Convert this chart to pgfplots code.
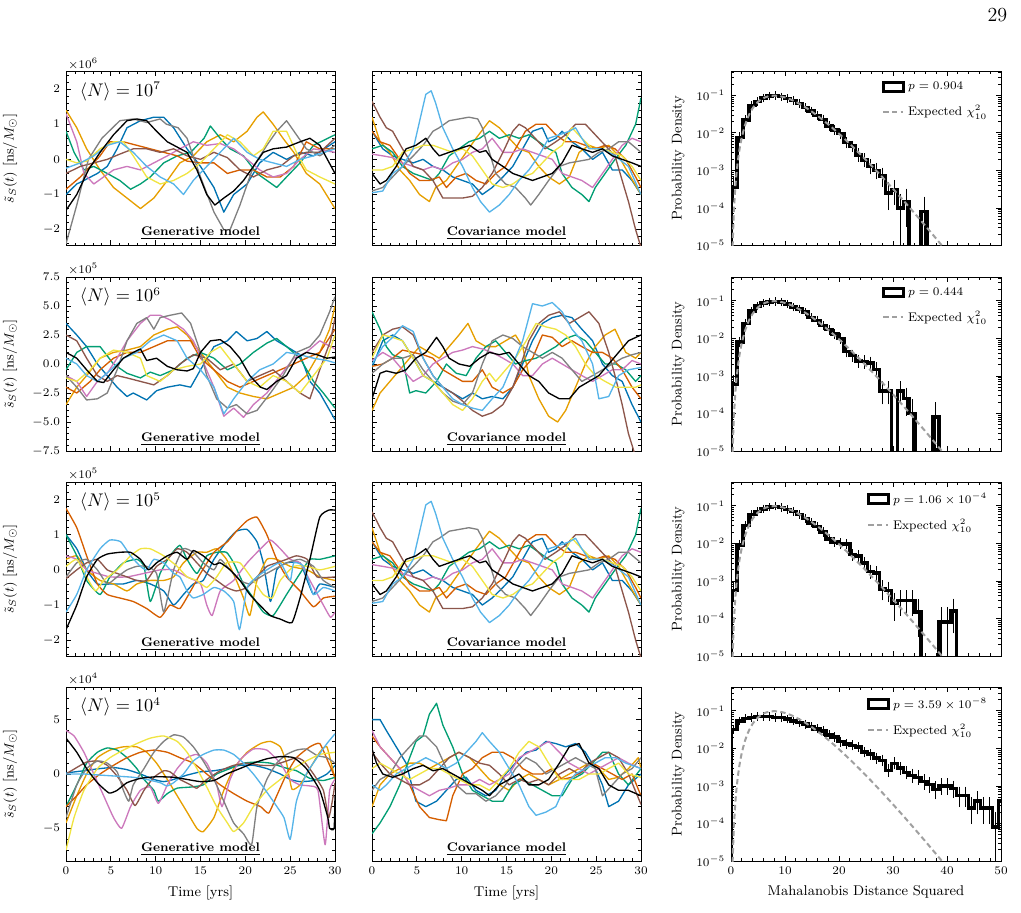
\documentclass[border=0pt]{standalone}
\usepackage{pgfplots}
\pgfplotsset{compat=1.18}
\usepackage{pgfplotstable}

\definecolor{cblue}{HTML}{0173B2}
\definecolor{corange}{HTML}{E69F00}
\definecolor{cgreen}{HTML}{029E73}
\definecolor{cverm}{HTML}{D55E00}
\definecolor{cpink}{HTML}{CC78BC}
\definecolor{cbrown}{HTML}{8C564B}
\definecolor{cgray}{HTML}{808080}
\definecolor{cyellow}{HTML}{F0E442}
\definecolor{clblue}{HTML}{56B4E9}
\definecolor{cchi}{HTML}{A0A0A0}

\newcommand\tickfont{\fontsize{7.5}{8}\selectfont}
\newcommand\labfont{\fontsize{8.5}{10}\selectfont}
\newcommand\legfont{\fontsize{7.5}{9}\selectfont}

% expected chi^2 density, 10 degrees of freedom
\pgfplotstableread{
x y
0.2 1.89e-6
0.3 9.08e-6
0.4 2.73e-5
0.6 1.25e-4
0.8 3.575e-4
1.0 7.90e-4
1.25 1.70e-3
1.5 3.11e-3
1.75 5.09e-3
2.0 7.66e-3
2.5 1.457e-2
3.0 2.353e-2
3.5 3.396e-2
4.0 4.511e-2
4.5 5.628e-2
5.0 6.680e-2
5.5 7.617e-2
6.0 8.402e-2
6.5 9.012e-2
7.0 9.440e-2
7.5 9.690e-2
8.0 9.768e-2
8.5 9.690e-2
9.0 9.490e-2
10 8.773e-2
11 7.790e-2
12 6.693e-2
13 5.590e-2
14 4.561e-2
15 3.645e-2
16 2.862e-2
17 2.213e-2
18 1.687e-2
19 1.270e-2
20 9.458e-3
22 5.094e-3
24 2.654e-3
26 1.345e-3
28 6.655e-4
30 3.226e-4
32 1.5365e-4
34 7.204e-5
36 3.331e-5
38 1.521e-5
40 6.87e-6
42 3.07e-6
}\chisq

% histograms: left bin edge, density, error up, error down
\pgfplotstableread{
x y ep em
0 1e-7 0 0
0 3.5e-4 1.7e-4 1.7e-4
1.1 7.5e-3 7.7e-4 7.7e-4
2.2 2.2e-2 1.3e-3 1.3e-3
3.3 5.4e-2 2.1e-3 2.1e-3
4.4 6.9e-2 2.3e-3 2.3e-3
5.5 8.4e-2 2.6e-3 2.6e-3
6.6 9.5e-2 2.8e-3 2.8e-3
7.7 9.8e-2 2.8e-3 2.8e-3
8.8 9.2e-2 2.7e-3 2.7e-3
9.9 8.3e-2 2.6e-3 2.6e-3
11.0 7.3e-2 2.4e-3 2.4e-3
12.1 6.0e-2 2.2e-3 2.2e-3
13.2 4.7e-2 1.9e-3 1.9e-3
14.3 3.8e-2 1.7e-3 1.7e-3
15.4 2.9e-2 1.5e-3 1.5e-3
16.5 2.3e-2 1.4e-3 1.4e-3
17.6 1.5e-2 1.1e-3 1.1e-3
18.7 1.2e-2 9.8e-4 9.8e-4
19.8 9.5e-3 8.7e-4 8.7e-4
20.9 5.5e-3 6.6e-4 6.6e-4
22.0 4.4e-3 5.9e-4 5.9e-4
23.1 2.6e-3 4.6e-4 4.6e-4
24.2 1.9e-3 3.9e-4 3.9e-4
25.3 1.3e-3 3.2e-4 3.2e-4
26.4 1.0e-3 2.8e-4 2.8e-4
27.5 7.0e-4 2.4e-4 2.4e-4
28.6 2.5e-4 1.4e-4 1.4e-4
29.7 3.0e-4 1.5e-4 1.5e-4
30.8 1.0e-4 9e-5 9e-5
31.9 1.5e-4 1.1e-4 1.1e-4
33.0 1e-7 0 0
34.1 1e-7 0 0
35.2 8e-5 8e-5 7.99e-5
36.3 1e-7 0 0
}\histA

\pgfplotstableread{
x y ep em
0 1e-7 0 0
0 6e-4 2.2e-4 2.2e-4
1.1 8e-3 8e-4 8e-4
2.2 2.5e-2 1.4e-3 1.4e-3
3.3 5.3e-2 2.1e-3 2.1e-3
4.4 7.2e-2 2.4e-3 2.4e-3
5.5 8.6e-2 2.6e-3 2.6e-3
6.6 9.4e-2 2.7e-3 2.7e-3
7.7 9.6e-2 2.8e-3 2.8e-3
8.8 9.3e-2 2.7e-3 2.7e-3
9.9 8.2e-2 2.6e-3 2.6e-3
11.0 6.8e-2 2.3e-3 2.3e-3
12.1 6.1e-2 2.2e-3 2.2e-3
13.2 5.0e-2 2.0e-3 2.0e-3
14.3 3.6e-2 1.7e-3 1.7e-3
15.4 3.0e-2 1.5e-3 1.5e-3
16.5 2.2e-2 1.3e-3 1.3e-3
17.6 1.7e-2 1.2e-3 1.2e-3
18.7 1.3e-2 1.0e-3 1.0e-3
19.8 1.0e-2 8.9e-4 8.9e-4
20.9 4.5e-3 6.0e-4 6.0e-4
22.0 3.5e-3 5.3e-4 5.3e-4
23.1 2.5e-3 4.5e-4 4.5e-4
24.2 2.4e-3 4.4e-4 4.4e-4
25.3 2.2e-3 4.2e-4 4.2e-4
26.4 1.5e-3 3.5e-4 3.5e-4
27.5 4e-4 1.8e-4 1.8e-4
28.6 4e-4 1.8e-4 1.8e-4
29.7 1e-7 0 0
30.8 4e-4 1.8e-4 1.8e-4
31.9 2.5e-4 1.4e-4 1.4e-4
33.0 1e-4 9e-5 9e-5
34.1 1e-7 0 0
35.2 1e-7 0 0
36.3 1e-7 0 0
37.4 8e-5 8e-5 7.99e-5
38.5 1e-7 0 0
}\histB

\pgfplotstableread{
x y ep em
0 1e-7 0 0
0 5.5e-4 2.1e-4 2.1e-4
1.1 9e-3 8.5e-4 8.5e-4
2.2 3.0e-2 1.5e-3 1.5e-3
3.3 5.9e-2 2.2e-3 2.2e-3
4.4 7.0e-2 2.4e-3 2.4e-3
5.5 8.3e-2 2.6e-3 2.6e-3
6.6 9.2e-2 2.7e-3 2.7e-3
7.7 9.7e-2 2.8e-3 2.8e-3
8.8 9.0e-2 2.7e-3 2.7e-3
9.9 8.0e-2 2.5e-3 2.5e-3
11.0 7.1e-2 2.4e-3 2.4e-3
12.1 5.8e-2 2.2e-3 2.2e-3
13.2 4.6e-2 1.9e-3 1.9e-3
14.3 3.5e-2 1.7e-3 1.7e-3
15.4 2.8e-2 1.5e-3 1.5e-3
16.5 2.0e-2 1.3e-3 1.3e-3
17.6 1.3e-2 1.0e-3 1.0e-3
18.7 1.1e-2 9.4e-4 9.4e-4
19.8 1.0e-2 8.9e-4 8.9e-4
20.9 9.5e-3 8.7e-4 8.7e-4
22.0 5.0e-3 6.3e-4 6.3e-4
23.1 4.6e-3 6.1e-4 6.1e-4
24.2 3.0e-3 4.9e-4 4.9e-4
25.3 1.8e-3 3.8e-4 3.8e-4
26.4 1.6e-3 3.6e-4 3.6e-4
27.5 6.0e-4 2.2e-4 2.2e-4
28.6 5.5e-4 2.1e-4 2.1e-4
29.7 2.5e-4 1.4e-4 1.4e-4
30.8 3.0e-4 1.5e-4 1.5e-4
31.9 3.0e-4 1.5e-4 1.5e-4
33.0 3.0e-4 1.5e-4 1.5e-4
34.1 1.5e-4 1.1e-4 1.1e-4
35.2 1e-7 0 0
36.3 1e-7 0 0
37.4 1e-7 0 0
38.5 8e-5 8e-5 7.99e-5
39.6 8e-5 8e-5 7.99e-5
40.7 1.6e-4 1.1e-4 1.1e-4
41.8 1e-7 0 0
}\histC

\pgfplotstableread{
x y ep em
0 1e-7 0 0
0 3.2e-2 1.6e-3 1.6e-3
1.1 5.4e-2 2.1e-3 2.1e-3
2.2 6.2e-2 2.2e-3 2.2e-3
3.3 6.6e-2 2.3e-3 2.3e-3
4.4 7.0e-2 2.4e-3 2.4e-3
5.5 7.1e-2 2.4e-3 2.4e-3
6.6 7.0e-2 2.4e-3 2.4e-3
7.7 6.7e-2 2.3e-3 2.3e-3
8.8 6.6e-2 2.3e-3 2.3e-3
9.9 6.0e-2 2.2e-3 2.2e-3
11.0 5.4e-2 2.1e-3 2.1e-3
12.1 4.9e-2 2.0e-3 2.0e-3
13.2 4.4e-2 1.9e-3 1.9e-3
14.3 3.8e-2 1.7e-3 1.7e-3
15.4 3.3e-2 1.6e-3 1.6e-3
16.5 2.9e-2 1.5e-3 1.5e-3
17.6 2.3e-2 1.4e-3 1.4e-3
18.7 2.0e-2 1.3e-3 1.3e-3
19.8 1.5e-2 1.1e-3 1.1e-3
20.9 1.3e-2 1.0e-3 1.0e-3
22.0 1.2e-2 9.8e-4 9.8e-4
23.1 1.1e-2 9.4e-4 9.4e-4
24.2 8.0e-3 8.0e-4 8.0e-4
25.3 7.0e-3 7.5e-4 7.5e-4
26.4 5.5e-3 6.6e-4 6.6e-4
27.5 4.8e-3 6.2e-4 6.2e-4
28.6 2.6e-3 4.6e-4 4.6e-4
29.7 4.0e-3 5.7e-4 5.7e-4
30.8 3.0e-3 4.9e-4 4.9e-4
31.9 2.3e-3 4.3e-4 4.3e-4
33.0 1.9e-3 3.9e-4 3.9e-4
34.1 1.7e-3 3.7e-4 3.7e-4
35.2 1.3e-3 3.2e-4 3.2e-4
36.3 1.1e-3 3.0e-4 3.0e-4
37.4 8.0e-4 2.5e-4 2.5e-4
38.5 1.0e-3 2.8e-4 2.8e-4
39.6 1.0e-3 2.8e-4 2.8e-4
40.7 8.5e-4 2.6e-4 2.6e-4
41.8 5.5e-4 2.1e-4 2.1e-4
42.9 5.5e-4 2.1e-4 2.1e-4
44.0 2.6e-4 1.4e-4 1.4e-4
45.1 4.0e-4 1.8e-4 1.8e-4
46.2 2.6e-4 1.4e-4 1.4e-4
47.3 2.6e-4 1.4e-4 1.4e-4
48.4 8e-5 8e-5 7.99e-5
49.5 4.0e-4 1.8e-4 1.8e-4
50.6 1e-7 0 0
}\histD

\pgfplotsset{
  panelbase/.style={
    scale only axis, height=104.4pt, clip mode=individual,
    axis line style={line width=0.6pt},
    tick align=inside,
    major tick length=3pt, minor tick length=1.6pt,
    every tick/.append style={line width=0.45pt, black},
    tick label style={font=\tickfont},
    label style={font=\labfont},
  },
  tsax/.style={panelbase, width=161.4pt, xmin=0, xmax=30,
    xtick={0,5,...,30}, minor xtick={0,1,...,30},
    every axis plot/.append style={line width=0.8pt, line join=round}},
  tsleft/.style={tsax, ylabel={$\tilde{s}_S(t)$ [ns/$M_\odot$]},
    every axis y label/.append style={at={(axis description cs:-0.16,0.5)}, anchor=south}},
  tsmid/.style={tsax, yticklabels={}},
  smoothrow/.style={every axis plot/.append style={smooth, tension=0.3}},
  rowA/.style={ymin=-2.45, ymax=2.5, ytick={-2,-1,0,1,2}, minor ytick={-2.4,-2.2,...,2.41}},
  rowB/.style={ymin=-7.5, ymax=7.5, ytick={-7.5,-5,...,7.5}, minor ytick={-7,-6.5,...,7.1},
    yticklabel style={/pgf/number format/fixed, /pgf/number format/fixed zerofill, /pgf/number format/precision=1}},
  rowD/.style={ymin=-8, ymax=8, ytick={-5,0,5}, minor ytick={-8,-7,...,8}},
  mdax/.style={panelbase, width=162pt, xmin=0, xmax=50, ymin=1e-5, ymax=0.43,
    xtick={0,10,...,50}, minor xtick={0,2,...,50},
    ytick={1e-5,1e-4,1e-3,1e-2,1e-1},
    minor ytick={2e-5,3e-5,4e-5,5e-5,6e-5,7e-5,8e-5,9e-5,2e-4,3e-4,4e-4,5e-4,6e-4,7e-4,8e-4,9e-4,2e-3,3e-3,4e-3,5e-3,6e-3,7e-3,8e-3,9e-3,2e-2,3e-2,4e-2,5e-2,6e-2,7e-2,8e-2,9e-2,2e-1,3e-1,4e-1},
    ylabel={Probability Density},
    every axis y label/.append style={at={(axis description cs:-0.15,0.5)}, anchor=south},
    legend style={draw=none, fill=none, at={(0.965,0.965)}, anchor=north east,
      font=\legfont, row sep=4pt, inner sep=0.5pt},
    legend cell align=left},
}

\newcommand\steplineopts{const plot, black, line width=2.1pt, line join=miter,
    legend image code/.code={\draw[black, line width=1.7pt] (0pt,-2.5pt) rectangle (12pt,2.7pt);}}
\newcommand\chilineopts{cchi, line width=1.2pt, dash pattern=on 3.2pt off 2pt,
    legend image code/.code={\draw[cchi, line width=1.2pt, dash pattern=on 3.2pt off 2pt] (0pt,0pt) -- (12pt,0pt);}}

% one histogram panel: table, p-value text
\newcommand\histpanel[2]{%
\expandafter\addplot\expandafter[\steplineopts] table[x=x, y=y] {#1};
\addlegendentry{#2}
\addplot[only marks, mark size=0pt, forget plot,
  error bars/y dir=both, error bars/y explicit,
  error bars/error bar style={black, line width=0.6pt},
  error bars/error mark options={black, mark size=2.2pt, line width=0.6pt}]
  table[x expr=\thisrow{x}+0.55, y=y, y error plus=ep, y error minus=em] {#1};
\expandafter\addplot\expandafter[\chilineopts] table[x=x, y=y] {\chisq};
\addlegendentry{Expected $\chi^2_{10}$}
}

\newcommand\scalenote[1]{\node[anchor=south west, font=\tickfont, inner sep=1pt] at (rel axis cs:0,1) {$\times10^{#1}$};}
\newcommand\Nlabel[1]{\node[anchor=west, font=\fontsize{10.5}{12}\selectfont] at (rel axis cs:0.03,0.885) {$\langle N\rangle = 10^{#1}$};}
\newcommand\genlabel{\node[font=\fontsize{7.5}{9}\selectfont\bfseries] at (rel axis cs:0.5,0.07) {\underline{Generative model}};}
\newcommand\covlabel{\node[font=\fontsize{7.5}{9}\selectfont\bfseries] at (rel axis cs:0.5,0.07) {\underline{Covariance model}};}

% covariance-model draws shared by the 10^7 and 10^5 rows
\newcommand\covA{%
\addplot[cblue] coordinates {(0,0.8) (1.2,0.3) (2.3,0.1) (3.4,0.0) (4.6,-0.1) (5.7,0.0) (6.8,-0.2) (7.9,-0.3) (9,-0.5) (10.1,-0.6) (11.2,-0.7) (12.3,-1.0) (13.4,-0.8) (14.6,-0.5) (15.7,-0.2) (16.8,0.3) (17.9,0.8) (19,0.9) (19.7,0.5) (20.5,0.6) (21.2,0.8) (22.3,0.5) (23.4,0.3) (24.6,0.0) (25.7,0.2) (26.8,-0.3) (27.9,-0.3) (29,-0.6) (30,-1.0)};
\addplot[corange] coordinates {(0,1.2) (0.9,0.5) (2,0.2) (3.1,-0.3) (4.2,-0.6) (5.3,-1.0) (6.4,-1.2) (7.1,-0.8) (8.3,-0.6) (9.4,-0.2) (10.5,0.2) (11.6,0.6) (13.1,1.1) (14.2,0.9) (15.3,0.6) (16.4,0.3) (17.5,0.2) (18.6,-0.2) (19.7,-0.5) (20.9,-0.7) (22,-0.5) (23.1,0.2) (24.2,0.4) (25.3,0.3) (26.4,0.4) (27.5,0.1) (28.6,-0.4) (30,-1.0)};
\addplot[cgreen] coordinates {(0,0.3) (1.2,0.4) (2.3,0.2) (3.4,-0.2) (4.6,-0.4) (5.7,-0.5) (6.8,-0.6) (7.5,-0.4) (8.6,0.1) (9.7,0.3) (10.8,0.5) (12,0.6) (13.1,0.8) (14.2,0.6) (15.3,0.7) (16.4,0.6) (17.5,0.7) (18.6,0.5) (19.7,0.3) (20.5,0.2) (21.2,-0.4) (22.3,-0.8) (23.4,-1.0) (24.2,-1.2) (24.9,-0.8) (26,-0.4) (27.1,0.0) (28.3,0.4) (29.4,1.0) (30,1.75)};
\addplot[cverm] coordinates {(0,0.8) (0.9,0.5) (2,0.4) (3.1,0.0) (4.2,-0.4) (5.3,-0.6) (6.4,-0.6) (7.5,-0.5) (8.3,-0.8) (9.4,-0.5) (10.5,-0.4) (11.6,-0.6) (12.7,-0.7) (13.8,-0.4) (14.9,-0.2) (16,0.3) (17.1,0.8) (18.3,1.0) (19.4,1.0) (20.5,0.7) (21.6,0.5) (22.7,0.5) (23.8,0.4) (24.9,0.3) (26,0.4) (27.1,0.3) (28.3,0.0) (29.4,-0.5) (30,-0.8)};
\addplot[cpink] coordinates {(0,0.15) (1.2,0.1) (2.3,0.05) (3.4,-0.1) (4.6,-0.2) (5.7,-0.3) (6.8,-0.2) (7.9,-0.3) (9,-0.1) (10.1,0.0) (11.2,0.2) (12.3,0.3) (13.4,0.6) (14.6,0.2) (15.7,0.2) (16.8,0.3) (17.9,0.2) (19,0.1) (20.1,0.0) (21.2,-0.4) (22.3,-0.5) (23.4,-0.6) (24.6,-0.8) (25.7,-0.4) (26.8,0.0) (27.9,0.4) (29,0.6) (30,0.5)};
\addplot[cbrown] coordinates {(0,1.65) (0.9,1.2) (1.6,0.9) (2.3,0.8) (3.4,0.3) (4.6,-0.2) (5.7,-0.3) (6.8,-0.6) (7.9,-1.1) (9,-1.1) (10.1,-1.1) (11.2,-1.05) (12.3,-0.8) (13.4,-0.4) (14.6,0.2) (15.7,0.8) (16.4,1.0) (17.1,0.9) (18.2,0.6) (19.3,0.3) (20.5,0.5) (21.6,0.7) (22.7,1.0) (23.8,1.0) (24.9,0.7) (26,0.4) (27.1,0.1) (27.9,-0.6) (28.6,-1.2) (29.4,-2.0) (30,-2.5)};
\addplot[cgray] coordinates {(0,-0.9) (1.2,-0.8) (2.3,-0.5) (3.4,-0.2) (4.6,0.1) (5.7,0.4) (6.8,0.8) (7.5,0.9) (8.6,1.1) (9.7,1.15) (10.8,1.2) (11.8,1.15) (12.3,0.9) (13.1,0.2) (13.8,-0.4) (14.9,-0.7) (16,-0.8) (17.1,-1.1) (17.7,-1.3) (18.6,-1.0) (19.7,-0.6) (20.9,-0.2) (22,-0.1) (23.1,-0.05) (24.2,0.0) (25.3,0.2) (26.4,0.3) (27.5,0.5) (28.6,0.5) (30,0.2)};
\addplot[cyellow] coordinates {(0,-0.3) (1.2,-0.3) (2.3,-0.2) (3.4,0.2) (4.6,0.3) (5.7,0.4) (6.8,0.4) (7.9,0.3) (9,0.2) (10.1,0.3) (11.2,0.1) (12.3,-0.3) (13.4,-0.7) (14.6,-0.8) (15.7,-0.7) (16.8,-0.5) (17.9,-0.4) (19,-0.1) (20.1,0.2) (21.2,0.4) (22.3,0.9) (23.4,0.6) (24.6,0.3) (25.7,0.3) (26.8,0.2) (27.9,0.1) (29,-0.2) (30,-0.6)};
\addplot[clblue] coordinates {(0,-0.95) (1.2,-0.9) (2.3,-0.4) (3.4,-0.2) (4.6,0.3) (5.5,1.3) (6,1.85) (6.6,1.95) (7.1,1.6) (7.9,0.9) (9,0.3) (10.1,-0.2) (11.2,-0.8) (12.1,-1.2) (13.1,-1.5) (14.2,-1.3) (15.3,-1.0) (16.4,-0.6) (17.5,-0.3) (18.6,0.1) (19.7,0.6) (20.9,0.7) (22,0.8) (22.7,0.9) (23.4,0.6) (24.2,0.3) (25.7,0.3) (27.1,0.1) (28.6,-0.2) (30,-1.0)};
\addplot[black] coordinates {(0,-0.4) (0.9,-0.7) (1.6,-0.6) (2.7,-0.2) (3.8,0.3) (4.9,0.4) (6,0.6) (6.8,0.3) (7.5,0.1) (8.6,0.2) (9.7,0.3) (10.9,0.4) (12,0.2) (12.7,0.25) (13.4,0.0) (14.6,-0.2) (15.7,-0.4) (16.8,-0.5) (17.9,-0.6) (19,-0.5) (20.1,-0.4) (21.2,-0.1) (22.3,0.4) (23.4,0.3) (24.6,0.2) (25.7,0.3) (26.8,0.1) (27.9,0.0) (29,-0.1) (30,-0.2)};
}

\begin{document}
\begin{tikzpicture}
\useasboundingbox (0,0) rectangle (612.6pt,547.2pt);
\node[anchor=east, font=\fontsize{12}{14}\selectfont] at (607.8pt,538.2pt) {29};

%% ---------------- row 1: <N> = 10^7 ----------------
\begin{axis}[tsleft, rowA, xticklabels={}, at={(39.6pt,399.9pt)}, anchor=south west]
\addplot[cblue] coordinates {(0,-1.0) (1.2,-0.7) (2,-0.6) (3.5,-0.4) (4.6,-0.2) (5.7,0.3) (6.8,0.9) (8.3,1.1) (9.8,1.2) (10.9,1.2) (12,0.9) (13.5,0.3) (15,-0.2) (16.5,-0.8) (17.6,-1.5) (18.7,-1.0) (20.2,-0.7) (21.6,-0.1) (23.1,0.2) (24.6,0) (26.1,0.2) (27.6,0.1) (30,0.5)};
\addplot[corange] coordinates {(0,1.4) (1.2,0.9) (2.3,0.3) (3.8,-0.3) (5.3,-0.8) (6.8,-1.1) (8.3,-1.4) (9.8,-1.1) (11.3,-0.6) (12.7,-0.1) (14.2,0.1) (15.7,0.5) (17.2,0.7) (18.7,0.5) (20.2,0.8) (21.3,1.2) (22,1.35) (23.1,1.0) (24.2,0.6) (25.4,0.2) (26.8,-0.4) (28.3,-0.7) (30,-1.4)};
\addplot[cgreen] coordinates {(0,0.8) (0.9,0.2) (2,-0.3) (3.1,-0.2) (4.6,-0.4) (6,-0.6) (7.2,-0.85) (8.3,-0.7) (9.4,-0.5) (10.9,-0.1) (12.4,0.1) (13.9,0.2) (15.4,0.6) (16.1,0.95) (17.2,0.6) (18.3,0.3) (19.8,0.1) (21.3,-0.4) (22.4,-0.6) (23.5,-0.8) (24.6,-0.5) (26.1,-0.1) (27.6,0.4) (30,0.7)};
\addplot[cverm] coordinates {(0,-0.85) (1.6,-0.5) (2.7,-0.2) (3.8,0.1) (4.9,0.5) (6.4,0.5) (7.9,0.4) (9.4,0.3) (10.9,0.2) (12.4,0.1) (13.5,-0.05) (15,-0.1) (16.5,-0.1) (18,-0.4) (19.4,-0.3) (20.9,-0.3) (22.4,-0.5) (23.9,-0.5) (25.4,-0.2) (26.8,0.5) (28.3,0.3) (30,0.3)};
\addplot[cpink] coordinates {(0,1.3) (1.2,0.5) (2,-0.4) (3.1,-0.7) (4.2,-0.5) (5.3,-0.3) (6.8,-0.2) (8.3,-0.3) (9.8,-0.1) (11.3,0.1) (12.7,0.3) (14.2,0.5) (15.7,0.4) (17.2,0.45) (18.7,0.3) (20.2,0) (21.6,-0.3) (23.1,-0.5) (24.6,-0.4) (26.1,0) (27.6,0.3) (30,0.2)};
\addplot[cbrown] coordinates {(0,-0.4) (1.6,-0.2) (3.1,-0.1) (4.6,0) (6,0.15) (7.5,0.3) (9,0.3) (10.5,0.2) (12,0.3) (13.5,0.1) (15,0) (16.5,0.2) (18,0.05) (19.4,-0.3) (20.9,-0.5) (22.4,-0.3) (23.9,-0.2) (25.4,0.1) (26.8,0.2) (28.3,0.2) (30,0.6)};
\addplot[cgray] coordinates {(0,-2.4) (1.2,-1.3) (2.5,0) (4,0.6) (6,1.1) (7.5,1.15) (9,1.05) (10.5,1.15) (11.2,1.0) (12.5,0.9) (13.5,0.6) (15,-0.5) (16.5,-1.5) (17.6,-2.0) (18.3,-2.0) (19.4,-1.3) (20.9,-0.2) (22.4,0.4) (23.5,0.8) (24.6,1.1) (25.7,0.7) (26.8,0.3) (28.3,0.1) (30,0.4)};
\addplot[cyellow] coordinates {(0,0) (1.2,-0.1) (2.3,-0.05) (3.8,0.3) (5.3,0.5) (6.4,0.5) (7.5,0.1) (9,-0.5) (10.5,-0.7) (12,-0.6) (13.5,-0.4) (15,-0.1) (16.5,0.3) (18,0.7) (19.4,0.5) (20.9,0.1) (22,0.3) (23.1,0.8) (24.6,0.8) (25.7,0.2) (26.8,-0.3) (28.3,-0.5) (30,-0.7)};
\addplot[clblue] coordinates {(0,-0.25) (1.6,-0.1) (3.1,0.1) (4.6,0.4) (6,0.5) (7.5,0.2) (9,-0.2) (10.5,-0.5) (12,-0.7) (13.1,-1.0) (14.2,-0.6) (15.7,-0.2) (17.2,0.2) (18.7,0.6) (20.2,0.2) (21.6,0) (23.1,-0.1) (24.6,-0.2) (26.1,0) (27.6,0.1) (30,0.3)};
\addplot[black] coordinates {(0,-1.45) (1.2,-1.0) (2.5,-0.3) (3.8,0.2) (5.3,0.7) (6.8,1.1) (7.9,1.15) (9,1.1) (10.1,0.8) (11.3,0.5) (12.4,0.35) (13.5,0.2) (14.6,-0.3) (15.7,-1.0) (16.6,-1.3) (17.6,-1.1) (18.7,-0.9) (19.8,-0.6) (20.9,-0.2) (22,0.2) (23.1,0.3) (24.6,0.35) (26.1,0.5) (27.2,0.6) (28.3,0.4) (30,-0.4)};
\scalenote{6}\Nlabel{7}\genlabel
\end{axis}

\begin{axis}[tsmid, rowA, xticklabels={}, at={(223.2pt,399.9pt)}, anchor=south west]
\covA
\covlabel
\end{axis}

\begin{axis}[mdax, ymode=log, xticklabels={}, at={(438.6pt,399.9pt)}, anchor=south west]
\histpanel{\histA}{$p = 0.904$}
\end{axis}

%% ---------------- row 2: <N> = 10^6 ----------------
\begin{axis}[tsleft, rowB, xticklabels={}, at={(39.6pt,276.6pt)}, anchor=south west]
\addplot[cblue] coordinates {(0,3.5) (1.2,2.5) (2.3,1.5) (3.5,0) (4.6,-1.0) (5.7,-2.0) (6.8,-2.8) (7.5,-2.5) (9,-3.1) (10.1,-2.3) (11.3,-2.0) (12.7,-1.8) (13.9,-2.0) (15,-0.5) (16.5,1.5) (18,2.0) (19,2.8) (20.2,2.0) (21.3,2.2) (22.4,2.8) (23.5,2.0) (24.6,1.5) (26.1,0.8) (27.2,-1.5) (28.3,-2.5) (30,-4.8)};
\addplot[corange] coordinates {(0,-3.5) (1.2,-2.0) (2.3,-1.0) (3.8,0.5) (5.3,1.0) (6.8,1.2) (8.3,1.5) (9.8,2.5) (11.3,3.0) (12.4,3.2) (13.5,2.5) (15,1.0) (16.5,-0.5) (18,-2.0) (19.4,-2.5) (20.9,-2.8) (22.4,-3.0) (23.9,-2.5) (25.4,-2.0) (26.8,-1.0) (28.3,1.0) (29.4,3.0) (30,5.0)};
\addplot[cgreen] coordinates {(0,-0.5) (1.2,1.0) (2.3,1.5) (3.8,1.5) (5.3,0) (6.8,-0.8) (8.3,-1.2) (9.4,-0.7) (10.5,-1.0) (12,-0.5) (13.5,0.5) (15,1.0) (16.5,0.5) (18,-0.5) (19.4,0) (20.9,1.0) (22.4,1.8) (23.5,2.2) (24.6,1.5) (26.1,0.5) (27.6,-1.5) (28.7,-2.5) (30,-3.8)};
\addplot[cverm] coordinates {(0,-2.0) (1.2,-2.5) (2.7,-1.5) (3.8,-0.5) (5.3,0.5) (6.8,1.0) (8.3,1.0) (9.8,1.5) (11.3,2.0) (12.7,2.0) (13.9,2.0) (15,0.5) (16.5,-0.5) (18,-1.5) (19.4,-2.0) (20.9,-1.5) (22.4,-1.0) (23.9,-0.5) (25.4,0) (26.8,0.5) (28.3,1.0) (30,3.0)};
\addplot[cpink] coordinates {(0,-1.0) (1.2,-1.5) (2.3,-2.8) (3.5,-1.5) (4.6,-0.8) (5.7,0.5) (6.8,2.0) (8.3,3.5) (9.4,4.2) (10.5,4.2) (11.6,3.8) (13.1,3.0) (14.2,2.0) (15.4,0) (16.5,-2.0) (17.6,-4.5) (18.7,-3.8) (19.8,-4.6) (20.9,-3.5) (22.4,-2.5) (23.9,-1.0) (25.4,0.5) (26.8,1.0) (28.3,2.0) (30,1.3)};
\addplot[cbrown] coordinates {(0,2.5) (1.2,2.0) (2.3,0.5) (3.5,-1.0) (4.6,-1.5) (5.7,-1.0) (6.8,-1.2) (8.3,-1.5) (9.8,-1.8) (11.3,-1.0) (12.7,0) (14.2,0.8) (15.7,0.5) (17.2,-0.5) (18.7,0) (20.2,-1.5) (21.6,-1.0) (23.1,-0.5) (24.6,-1.5) (26.1,-2.5) (27.2,-3.0) (28.3,-0.5) (29.5,2.0) (30,4.0)};
\addplot[cgray] coordinates {(0,-1) (1.2,-2.0) (2.3,-3.1) (3.5,-3.0) (4.6,-2.5) (5.7,-0.5) (6.8,2.0) (7.9,3.5) (9,4.0) (9.8,3.0) (10.5,4.0) (11.6,4.2) (12.9,4.4) (13.9,3.5) (15,1.0) (15.7,-1.0) (16.8,-3.0) (18,-3.8) (19,-3.5) (20.2,-4.3) (21.3,-4.0) (22.8,-2.5) (24.2,-1.0) (25.7,1.0) (27.2,1.5) (28.3,2.5) (29.4,4.5) (30,5.8)};
\addplot[cyellow] coordinates {(0,-1.2) (1.2,-1.5) (2.7,-0.5) (3.8,0.5) (5.3,1.2) (6.8,1.0) (8.3,0.5) (9,-1.0) (10.5,-1.5) (12,-0.5) (13.5,-0.2) (15,0) (16.1,1.0) (17.2,1.5) (18.7,0) (20.2,-1.5) (21.6,-2.0) (23.1,-1.0) (24.6,-1.5) (26.1,-2.5) (27.6,-1.0) (29.1,0.5) (30,2.5)};
\addplot[clblue] coordinates {(0,0.5) (1.2,0) (2.3,-1.0) (3.5,-1.5) (5,-0.5) (6.4,0.5) (7.9,1.0) (9.4,2.0) (10.9,2.5) (12.4,2.0) (13.5,0.5) (15,-0.5) (16.5,-2.0) (17.6,-4.3) (18.7,-3.0) (20.2,-1.5) (21.6,-0.5) (23.1,0) (24.6,1.0) (26.1,0.8) (27.6,0.5) (29.1,0.3) (30,0.1)};
\addplot[black] coordinates {(0,1.0) (1.2,0.5) (2.3,-0.5) (3.5,-1.5) (4.2,-1.6) (5.3,-0.5) (6.4,0.5) (7.5,1.0) (8.3,1.3) (9,0.3) (10.1,0.5) (11.3,-0.2) (12.4,-0.5) (13.5,-0.6) (14.2,-0.4) (15,1.0) (16.1,2.0) (17.2,2.1) (18.3,1.5) (19.4,0.5) (20.5,-1.0) (21.7,-2.0) (22.4,-2.2) (23.5,-1.5) (24.6,-1.0) (25.7,0.5) (26.8,1.0) (28,0.8) (29.1,0.5) (30,0.6)};
\scalenote{5}\Nlabel{6}\genlabel
\end{axis}

\begin{axis}[tsmid, rowB, xticklabels={}, at={(223.2pt,276.6pt)}, anchor=south west]
\addplot[cblue] coordinates {(0,-0.3) (1.2,2.0) (2.3,2.5) (3.4,2.0) (4.6,0.5) (5.7,-1.0) (6.8,-1.5) (7.9,-2.0) (9,-2.5) (10.1,-3.0) (11.2,-2.5) (12.3,-3.0) (13.4,-2.8) (14.6,-3.0) (15.7,-2.0) (16.8,0) (17.9,2.0) (19,3.5) (20.1,4.0) (21.2,4.2) (22.3,4.0) (23.4,3.0) (24.6,2.0) (25.7,0.0) (26.8,-1.0) (27.9,-1.5) (29,-3.5) (30,-5.0)};
\addplot[corange] coordinates {(0,-4.0) (0.9,-2.5) (2,-1.5) (3.1,-0.5) (4.2,0.5) (5.3,1.5) (6.4,1.0) (7.5,0.5) (8.6,1.5) (9.7,2.5) (10.7,3.5) (11.6,2.0) (12.7,1.5) (13.8,1.5) (14.9,2.0) (16,2.5) (16.8,1.5) (17.5,-1.0) (18.6,-3.0) (19.7,-4.5) (20.7,-5.0) (21.6,-4.0) (22.7,-2.0) (23.8,0.0) (24.9,1.5) (26,2.5) (27.1,3.0) (28.3,1.0) (29.4,0.5) (30,1.0)};
\addplot[cgreen] coordinates {(0,4.5) (0.9,3.0) (1.6,1.5) (2.3,0.8) (3.4,0.5) (4.2,-2.5) (4.9,-2.3) (6,-2.5) (7.2,-1.5) (8.3,0.0) (9.4,-0.8) (10.5,-1.0) (11.6,0.5) (12.7,1.5) (13.8,2.0) (14.9,1.0) (16,0.0) (17.2,0.3) (18.3,0.5) (19.4,1.0) (20.5,1.5) (21.6,2.2) (22.7,2.5) (23.8,2.0) (24.9,1.0) (26,0.0) (27.2,0.0) (28.3,-0.5) (29.4,-1.5) (30,-1.0)};
\addplot[cverm] coordinates {(0,-0.2) (1.2,0.0) (2.3,0.5) (3.4,1.2) (4.6,1.0) (5.7,0.8) (6.8,0.5) (7.9,-0.5) (9,-1.0) (10.1,-1.5) (11.2,-1.5) (12.3,-0.5) (13.4,-2.0) (14.6,-2.5) (15.7,-2.0) (16.8,-0.5) (17.9,0.5) (19,2.5) (20.1,2.3) (21.2,1.5) (22.3,2.0) (23.4,1.5) (24.6,1.0) (25.7,1.0) (26.8,0.5) (27.9,-0.5) (29,-2.0) (30,-3.0)};
\addplot[cpink] coordinates {(0,0.3) (1.2,1.0) (2.3,0.5) (3.4,-0.5) (4.6,-1.5) (5.7,-1.0) (6.8,0.0) (7.9,0.5) (9,1.0) (10.1,1.2) (11.2,1.5) (12.3,1.3) (13.4,1.0) (14.6,0.5) (15.7,0.0) (16.8,-1.0) (17.9,-1.0) (19,0.0) (20.1,0.5) (21.2,0.0) (22.3,-0.5) (23.4,-1.0) (24.6,-1.5) (25.7,-1.0) (26.8,-0.5) (27.9,-0.5) (29,0.3) (30,0.0)};
\addplot[cbrown] coordinates {(0,1.0) (1.2,2.5) (2.3,3.0) (3.4,3.2) (4.6,2.5) (5.7,0.5) (6.8,-1.0) (7.9,-2.0) (9,-2.5) (10.1,-3.2) (11.2,-4.0) (12.3,-4.5) (13.4,-4.2) (14.6,-3.5) (15.7,-2.0) (16.4,-0.5) (17.5,2.0) (18.6,3.5) (19.7,4.2) (20.9,4.5) (22,3.5) (23.1,4.0) (24.2,4.5) (25.3,3.5) (26.4,1.0) (27.1,-1.0) (27.9,-3.5) (28.6,-6.0) (29.2,-7.5) (29.5,-8.5)};
\addplot[cgray] coordinates {(0,-0.8) (1.2,0.0) (2.3,0.5) (3.4,0.5) (4.6,0.8) (5.7,-0.5) (6.8,-1.5) (7.9,-2.5) (9,-3.2) (10.1,-3.5) (11.2,-2.5) (12.3,0.0) (13.4,2.0) (14.6,2.5) (15.7,2.2) (16.8,1.5) (17.9,1.0) (19,0.5) (20.1,1.0) (21.2,0.5) (22.3,-0.5) (23.4,-1.5) (24.6,-1.0) (25.7,-0.5) (26.8,0.0) (27.9,0.5) (29,0.8) (30,1.0)};
\addplot[cyellow] coordinates {(0,0.5) (1.2,2.5) (2.3,2.3) (3.4,2.0) (4.6,0.5) (5.7,-1.0) (6.8,-1.5) (7.9,-2.5) (9,-3.5) (10.1,-4.0) (11.2,-3.0) (12.3,-1.5) (13.1,-0.8) (13.8,-1.5) (14.9,-0.5) (16,0.5) (17.2,2.0) (18.3,3.5) (19.4,3.2) (20.5,3.0) (21.6,2.5) (22.7,1.5) (23.8,0.0) (24.9,-1.0) (26,-1.5) (27.2,-2.0) (28.3,-2.0) (29.4,-2.0) (30,-1.8)};
\addplot[clblue] coordinates {(0,0) (1.2,1.5) (2.3,2.3) (3.4,3.3) (4.6,2.8) (5.7,0.5) (6.8,-1.0) (7.9,-2.0) (9,-3.0) (10.1,-3.5) (11.2,-3.8) (12.3,-4.0) (13.4,-3.0) (14.6,-2.0) (15.7,0.0) (16.8,2.0) (17.9,5.2) (19,5.0) (20.1,5.3) (21.2,4.5) (22.3,3.0) (23.4,2.0) (24.6,0.0) (25.3,-3.0) (26.4,-2.8) (27.5,-1.0) (28.6,-0.5) (30,-0.3)};
\addplot[black] coordinates {(0,-3.0) (0.9,-0.8) (1.6,-0.6) (2.7,-0.8) (3.8,-0.5) (4.9,0.5) (6,1.0) (7.2,2.3) (7.9,1.5) (8.6,0.5) (9.7,0.0) (10.9,-0.2) (12,0.5) (13.1,1.0) (14.2,0.8) (15.3,1.0) (16.4,0.0) (17.5,-1.0) (18.6,-1.5) (19.7,-2.5) (20.9,-3.0) (22,-3.0) (23.1,-2.0) (24.2,-1.5) (25.3,-1.0) (26.4,0.0) (27.5,1.0) (28.6,2.0) (30,2.5)};
\covlabel
\end{axis}

\begin{axis}[mdax, ymode=log, xticklabels={}, at={(438.6pt,276.6pt)}, anchor=south west]
\histpanel{\histB}{$p = 0.444$}
\end{axis}

%% ---------------- row 3: <N> = 10^5 ----------------
\begin{axis}[tsleft, rowA, smoothrow, xticklabels={}, at={(39.6pt,153.6pt)}, anchor=south west]
\addplot[cblue] coordinates {(0,1.0) (1.2,0.6) (2.3,0.0) (3.5,-0.4) (5,-0.4) (6.4,-0.4) (7.9,-0.3) (9.4,-0.4) (10.9,-0.6) (12,-1.0) (13.1,-0.7) (14.2,-0.4) (15.3,-0.3) (16.5,0.3) (17.9,0.8) (19,1.1) (20.2,1.15) (21.3,0.8) (22,0.2) (22.8,-0.9) (23.5,0.0) (24.6,0.2) (26.1,0.2) (26.9,-0.3) (27.6,-0.7) (28.3,-0.4) (30,-0.5)};
\addplot[corange] coordinates {(0,0.3) (1.2,0.4) (2.3,0.0) (3.8,-0.3) (5.3,-0.4) (6.8,-0.6) (7.9,-0.4) (9.4,-0.3) (10.9,-0.3) (12,-0.2) (13.1,0.2) (14.6,0.5) (15.7,0.5) (16.8,0.6) (17.9,0.3) (19,-0.3) (19.8,-0.8) (20.5,-1.3) (21.3,-0.3) (22.4,0.3) (23.5,0.3) (25,0.1) (26.9,0.0) (28.3,-0.2) (30,-0.3)};
\addplot[cgreen] coordinates {(0,1.0) (1.2,0.4) (2.3,-0.3) (3.8,-0.7) (4.9,-0.2) (6.4,0.2) (7.9,0.3) (8.7,0.1) (9.4,-0.9) (10.5,-0.1) (11.6,0.4) (12.7,0.7) (13.5,0.3) (14.6,-0.1) (15.7,0.4) (16.8,0.5) (17.9,0.5) (18.7,0.2) (19.8,-0.4) (20.9,-0.8) (22,-1.2) (23.1,-1.3) (24.6,-0.7) (26.1,-0.1) (27.2,0.3) (28.3,0.3) (30,0.4)};
\addplot[cverm] coordinates {(0,1.75) (1.2,1.2) (2.3,0.4) (3.5,-0.4) (4.6,-0.7) (6,-0.8) (7.5,-0.9) (9,-1.1) (10.5,-1.35) (11.6,-1.0) (12.7,-1.1) (13.9,-0.6) (15,-0.1) (16.5,0.5) (18,0.8) (19,1.1) (20.2,1.4) (21.3,1.5) (22.4,1.0) (23.5,0.3) (24.6,-0.2) (26.1,-0.6) (27.6,-1.05) (28.7,-0.8) (30,-0.75)};
\addplot[cpink] coordinates {(0,0.4) (1.2,0.3) (2.3,0.0) (3.5,-0.1) (4.9,-0.2) (6.8,-0.2) (8.7,-0.1) (10.5,0.0) (12,0.0) (13.5,-0.2) (15,-0.4) (15.7,-1.0) (16.3,-1.3) (17.2,-0.6) (18.7,-0.3) (20.2,0.2) (21.7,0.6) (22.8,0.85) (23.9,0.6) (25,0.3) (26.1,0.2) (27.2,-0.3) (28.7,-1.0) (29.5,-1.35) (30,-1.2)};
\addplot[cbrown] coordinates {(0,-0.25) (1.2,0.0) (2.3,0.2) (3.5,0.3) (4.6,0.0) (5.7,-0.1) (6.8,-0.2) (7.9,-0.3) (9,-0.3) (10.1,0.1) (11.3,0.3) (12.4,0.6) (13.5,0.5) (14.6,0.2) (15.7,-0.1) (16.8,-0.3) (17.9,-0.5) (19,-0.6) (20.2,-0.5) (21.3,-0.2) (22.4,0.1) (23.5,0.2) (24.6,0.3) (25.7,0.4) (26.9,0.3) (28,-0.2) (30,-0.2)};
\addplot[cgray] coordinates {(0,-0.2) (1.2,0.2) (2.3,0.3) (3.5,0.0) (4.6,-0.4) (5.7,-0.2) (6.8,0.0) (7.9,0.1) (9,0.1) (10.1,-0.1) (10.9,-1.2) (12,0.0) (13.1,0.6) (14.2,0.5) (15.3,0.2) (16.5,0.0) (17.2,0.3) (18.3,0.0) (19.4,-0.3) (20.5,-0.4) (21.7,-0.2) (23.1,0.0) (24.6,0.2) (26.1,0.3) (27.6,0.1) (28.7,-0.3) (30,-0.5)};
\addplot[cyellow] coordinates {(0,0.1) (1.2,0.3) (2.3,-0.2) (3.3,-0.6) (4.2,-0.3) (5.7,0.0) (7.2,0.4) (8.3,0.6) (9.4,0.6) (10.9,0.4) (12.4,0.1) (13.5,-0.2) (14.6,-0.3) (15.7,-0.5) (16.8,-0.2) (17.9,0.2) (19.4,0.2) (20.9,-0.3) (22,-0.7) (23,-0.8) (23.9,-0.3) (25.4,0.1) (26.9,0.1) (28.3,0.0) (30,0.1)};
\addplot[clblue] coordinates {(0,-1.2) (1.2,-0.7) (2.3,0) (3.8,0.6) (4.9,0.85) (6.1,0.8) (7.2,0.4) (8.3,0.1) (9,0.0) (9.8,0.3) (10.9,0.2) (12,-0.1) (12.7,-0.2) (13.5,-0.6) (14.2,-0.8) (15.3,-0.7) (16.5,-0.5) (17.6,-0.6) (18.7,-0.9) (19.35,-1.7) (20.2,-0.5) (21.3,-0.2) (22.4,0) (23.9,0.2) (25,-0.3) (25.4,0.2) (26.5,0.1) (27.6,-0.7) (28.7,-0.5) (30,-0.6)};
\addplot[black] coordinates {(0,-1.7) (1.2,-1.0) (2.3,-0.2) (3.5,0.3) (4.6,0.45) (6,0.5) (7.2,0.5) (8.3,0.3) (9.2,0.0) (10.1,0.2) (11.3,0.4) (12.4,0.5) (13.5,0.3) (14.2,0.55) (15.3,0.4) (16.5,0.15) (17.2,0.2) (18.3,0) (19.4,-0.3) (20.5,-0.7) (21.6,-1.0) (22.8,-1.3) (23.9,-1.4) (25.2,-1.5) (26.1,-0.8) (27.2,0.3) (28.3,1.5) (29.3,1.7) (30,1.7)};
\scalenote{5}\Nlabel{5}\genlabel
\end{axis}

\begin{axis}[tsmid, rowA, xticklabels={}, at={(223.2pt,153.6pt)}, anchor=south west]
\covA
\covlabel
\end{axis}

\begin{axis}[mdax, ymode=log, xticklabels={}, at={(438.6pt,153.6pt)}, anchor=south west]
\histpanel{\histC}{$p = 1.06\times10^{-4}$}
\end{axis}

%% ---------------- row 4: <N> = 10^4 ----------------
\begin{axis}[tsleft, rowD, smoothrow, xlabel={Time [yrs]}, at={(39.6pt,30.6pt)}, anchor=south west]
\addplot[cblue] coordinates {(0,0.1) (2,0.3) (3.8,0.5) (5.3,0.6) (6.8,0.4) (8.3,0) (9.8,-0.5) (10.9,-0.7) (12,-0.5) (13.5,-0.1) (15,0.2) (16.5,0.3) (17.9,0.5) (19.4,0.8) (20.9,0.8) (22.4,0.5) (23.9,0) (25,-0.5) (26.1,-0.7) (27.6,-0.6) (29.1,0) (30,0.8)};
\addplot[corange] coordinates {(0,-4.5) (1.2,-2.0) (2.3,0) (3.5,1.5) (4.9,2.2) (6.4,2.5) (7.9,2.5) (9,2.0) (10.1,1.0) (11.3,-0.5) (12.4,-2.0) (13.5,-3.5) (14.6,-5.0) (15.3,-5.3) (16.5,-4.0) (17.6,-1.5) (18.7,0.5) (20.2,2.0) (21.7,2.8) (22.8,3.0) (23.9,2.5) (24.6,1.0) (25.2,-1.4) (26.1,-1.0) (27.2,0.5) (28.3,2.0) (29.1,2.5) (30,-0.5)};
\addplot[cgreen] coordinates {(0,-3.0) (1.2,-1.0) (2.3,1.0) (3.5,2.0) (4.6,2.4) (5.7,2.2) (6.8,1.5) (7.9,0.5) (8.7,-0.5) (9.8,-1.5) (10.3,-2.5) (11.3,-1.8) (12.4,-1.3) (13.9,-1.2) (15.3,-1.0) (16.8,0) (18.3,0.5) (19.8,1.0) (21.3,1.1) (22.8,1.0) (24.3,0.6) (25.7,0.3) (27.2,-0.4) (28.7,-0.6) (30,-0.3)};
\addplot[cverm] coordinates {(0,-3.0) (1.2,-2.0) (2.3,-1.0) (3.8,0.0) (5.3,0.8) (6.8,1.5) (8.3,2.0) (9.8,2.2) (11.3,2.0) (12.7,1.5) (14.2,1.0) (15.7,0.0) (17.2,-1.0) (18.7,-1.8) (20.2,-2.5) (21.7,-3.0) (22.6,-3.6) (23.5,-2.0) (24.6,0) (25.7,1.5) (27.2,2.5) (28.3,2.8) (29.3,1.0) (30,-0.3)};
\addplot[cpink] coordinates {(0,4.0) (0.9,3.5) (2,2.0) (3.1,0) (4.2,-2.0) (5.3,-4.0) (6.2,-5.0) (7.2,-3.0) (8.3,-1.5) (9.4,-1.2) (10.3,-2.7) (11.3,-1.0) (12.4,0.5) (13.5,1.5) (14.6,1.8) (15.7,1.0) (16.8,-1.0) (17.4,-3.0) (18.3,-0.5) (19.4,1.3) (20.9,2.3) (22.4,2.2) (23.9,1.0) (25,-0.5) (26.1,-1.0) (27.2,-1.1) (28.1,-1.5) (28.9,-6.5) (29.4,-1.5) (30,-0.5)};
\addplot[cbrown] coordinates {(0,0.0) (1.2,0.6) (2.3,1.1) (3.5,1.2) (4.6,0.8) (5.7,-0.2) (6.8,-1.5) (7.7,-2.9) (8.7,-1.5) (9.8,-0.3) (10.9,0.3) (11.6,0.2) (12.7,-0.5) (13.9,-1.0) (14.6,-1.3) (15.7,-0.5) (17.2,0.3) (18.7,0.8) (20.2,1.0) (21.7,0.8) (23.1,0.8) (24.6,1.2) (25.7,1.5) (26.5,1.2) (27.6,0.0) (28.7,-1.5) (29.3,-4.0) (29.8,-2.0) (30,-0.8)};
\addplot[cgray] coordinates {(0,-4.0) (1.2,-1.0) (2.3,0.5) (3.5,1.2) (4.6,1.0) (5.7,0.2) (6.4,-1.5) (7,-2.5) (7.5,-1.0) (8.7,0.5) (9.8,2.0) (10.9,3.0) (12,3.6) (13.1,3.4) (14.2,2.5) (15.3,1.2) (16.5,-0.5) (17.6,-2.5) (18.7,-4.5) (19.8,-5.5) (20.7,-6.5) (21.3,-3.0) (22.4,-0.5) (23.5,1.0) (24.6,1.8) (25.7,2.2) (26.8,2.3) (28,1.7) (29.1,1.5) (30,1.0)};
\addplot[cyellow] coordinates {(0,-7.0) (0.9,-4.0) (2,-1.5) (3.5,0.5) (4.9,1.5) (6.4,2.2) (7.9,2.8) (9.4,3.3) (10.9,3.5) (12.4,3.0) (13.5,2.0) (14.6,0.5) (15.7,-1.2) (16.8,-3.0) (18,-4.5) (18.7,-5.3) (19.8,-4.5) (20.9,-3.0) (22.4,-1.5) (23.9,-0.5) (25.4,0.5) (26.8,1.2) (28.3,1.8) (30,2.0)};
\addplot[clblue] coordinates {(0,0.0) (2,0.0) (3.8,-0.1) (5.7,-0.2) (7.5,-0.3) (9,-0.5) (10.5,-0.8) (11.25,-1.1) (12,-0.8) (13.1,0.0) (14.2,1.2) (15.3,1.8) (16.5,2.2) (17.6,2.2) (18.7,1.8) (19.8,1.0) (20.9,0.0) (22,-1.2) (23.1,-2.5) (24.3,-4.0) (25,-6.0) (25.7,-2.5) (26.8,0.0) (28,1.5) (29.1,2.8) (30,3.7)};
\addplot[black] coordinates {(0,3.3) (1.2,2.0) (2.3,0.5) (3.5,-0.8) (4.8,-1.75) (5.7,-1.5) (6.8,-0.8) (8.3,-0.4) (10.1,-0.25) (12,-0.3) (13.5,-0.5) (15,-0.7) (16.5,-0.6) (17.9,0) (19.4,0.5) (20.9,1.0) (22.4,1.4) (23.9,1.6) (25.4,1.5) (26.8,0.5) (28.3,-1.5) (29.2,-4.0) (29.4,-5.0) (29.9,-5.0) (30,-2.0)};
\scalenote{4}\Nlabel{4}\genlabel
\end{axis}

\begin{axis}[tsmid, rowD, xlabel={Time [yrs]}, at={(223.2pt,30.6pt)}, anchor=south west]
\addplot[cblue] coordinates {(0,5.0) (0.9,5.0) (1.6,4.0) (2.7,2.5) (3.8,1.0) (4.9,-2.5) (6,-3.0) (7.2,-2.5) (8.3,-1.5) (9.4,-0.5) (10.5,-0.3) (11.6,-1.5) (12.7,-2.0) (13.8,-1.5) (14.9,0.0) (16,1.0) (17.2,2.0) (18.3,2.2) (19.4,3.0) (20.5,2.8) (21.6,2.5) (22.7,2.8) (23.8,2.0) (24.9,0.5) (25.7,-1.0) (26.4,-3.0) (27.5,-2.5) (28.6,-1.0) (30,0.0)};
\addplot[corange] coordinates {(0,-3.0) (0.9,-1.0) (2,0.0) (3.1,0.5) (4.2,1.0) (5.3,1.0) (6.4,0.5) (7.5,1.0) (8.6,1.5) (9.7,2.0) (10.9,1.5) (12,0.5) (13.1,-0.5) (14.2,-1.0) (15.3,-1.5) (16.4,-0.5) (17.5,0.0) (18.6,-0.5) (19.7,-1.0) (20.9,-0.5) (22,0.0) (23.1,0.5) (24.2,1.0) (25.3,0.5) (26.4,-0.5) (27.5,-0.3) (28.6,0.5) (29.7,1.5) (30,0.5)};
\addplot[cgreen] coordinates {(0,-5.5) (0.9,-4.5) (2,-3.0) (3.1,-1.0) (4.2,1.5) (4.9,3.0) (5.7,3.5) (6.4,5.5) (7.2,6.5) (7.9,4.5) (9,2.5) (10.1,0.0) (11.2,-1.5) (12.3,-2.0) (13.4,-2.5) (14.6,-2.5) (15.7,-1.0) (16.8,-0.5) (17.9,-1.0) (19,-1.5) (20.1,-2.0) (21.2,-2.0) (22.3,-0.5) (23.4,0.0) (24.6,1.0) (25.7,2.0) (26.4,2.0) (27.5,0.0) (28.6,-1.0) (30,0.5)};
\addplot[cverm] coordinates {(0,3.5) (0.9,2.5) (2,1.5) (3.1,0.5) (4.2,-1.0) (5.3,-3.0) (6.4,-4.0) (7.5,-4.2) (8.3,-4.3) (9,-2.0) (10.1,0.0) (11.2,0.5) (12.3,1.5) (13.4,2.0) (14.6,2.0) (15.7,1.5) (16.8,0.5) (17.9,0.0) (19,0.0) (20.1,0.5) (21.2,-0.5) (22.3,-0.3) (23.4,0.2) (24.6,1.0) (25.7,0.5) (26.8,0.0) (27.9,-0.5) (29,0.0) (30,-2.0)};
\addplot[cpink] coordinates {(0,4.0) (0.9,2.5) (2,1.5) (3.1,0.5) (4.2,-1.0) (5.3,-1.5) (6.4,-2.0) (7.5,-1.5) (8.6,-1.3) (9.7,-1.0) (10.9,-1.0) (12,-0.5) (13.1,-1.0) (14.2,-0.5) (15.3,0.0) (16.4,1.5) (17.5,2.0) (18.6,2.5) (19.7,3.0) (20.9,2.0) (22,1.0) (23.1,0.5) (24.2,0.0) (25.3,0.5) (26.4,1.0) (27.5,1.5) (28.6,1.0) (30,0.5)};
\addplot[cbrown] coordinates {(0,2.0) (0.9,1.0) (2,0.0) (3.1,-0.5) (4.2,-1.0) (5.3,-1.0) (6.4,-0.5) (7.5,0.5) (8.6,1.5) (9.7,2.0) (10.9,1.5) (12,1.0) (13.1,0.8) (14.2,0.0) (15.3,-1.0) (16.4,-0.5) (17.5,-0.8) (18.6,-0.5) (19.7,-1.0) (20.9,0.0) (22,0.5) (23.1,0.0) (24.2,1.0) (25.3,1.5) (26.4,2.0) (27.5,1.5) (28.6,0.0) (30,-2.8)};
\addplot[cgray] coordinates {(0,-1.5) (0.9,-0.5) (2,0.0) (3.1,1.5) (4.2,2.5) (5.3,3.5) (6,3.5) (7.2,2.5) (8.3,0.5) (9.4,-1.0) (10.5,-1.8) (11.6,-1.8) (12.7,-2.5) (13.8,-2.0) (14.9,-1.0) (16,0.5) (17.2,1.5) (18.3,1.0) (19.4,0.0) (20.5,0.5) (21.6,1.0) (22.7,1.5) (23.8,1.0) (24.9,0.5) (25.7,-2.0) (26.8,-1.0) (27.9,0.0) (29,0.5) (30,1.5)};
\addplot[cyellow] coordinates {(0,0.5) (0.9,1.0) (2,0.5) (3.1,0.0) (4.2,-0.5) (5.3,0.0) (6.4,0.5) (7.5,0.5) (8.6,0.0) (9.7,-0.5) (10.9,-1.0) (12,-1.0) (13.1,-1.5) (14.2,-0.5) (15.3,0.5) (16.4,2.0) (17.5,3.0) (18.6,2.5) (19.7,1.0) (20.9,-0.5) (22,-0.5) (23.1,-0.5) (24.2,0.0) (25.3,0.0) (26.4,0.5) (27.5,1.0) (28.6,0.0) (30,-0.3)};
\addplot[clblue] coordinates {(0,-1.0) (0.9,-1.5) (1.6,-1.0) (2.7,0.0) (3.8,0.5) (4.9,1.0) (6,1.5) (7.2,1.0) (8.3,0.5) (9.4,1.0) (10.5,2.0) (11.6,3.0) (12.3,3.8) (13.1,3.0) (14.2,2.0) (15.3,0.5) (16.4,-1.0) (17.5,-3.0) (18.3,-3.8) (19.4,-3.5) (20.5,-3.0) (21.6,-1.0) (22.7,0.0) (23.8,0.5) (24.9,1.0) (26,1.5) (27.2,1.5) (28.3,1.0) (30,0.5)};
\addplot[black] coordinates {(0,2.3) (0.5,1.0) (1.2,0.0) (2.3,-0.3) (3.4,0.0) (4.6,0.5) (5.7,0.8) (6.8,0.3) (7.9,0.5) (9,0.0) (10.1,-0.5) (11.2,-1.0) (12.3,-1.5) (13.1,-2.0) (14.2,-1.0) (15.3,-0.5) (16.4,0.0) (17.5,-1.0) (18.6,-1.0) (19.7,-0.5) (20.9,1.0) (22,2.5) (23.1,2.8) (24.2,1.0) (25.3,0.5) (26.4,-1.0) (27.5,-1.5) (28.6,-1.5) (30,-2.0)};
\covlabel
\end{axis}

\begin{axis}[mdax, ymode=log, xlabel={Mahalanobis Distance Squared}, at={(438.6pt,30.6pt)}, anchor=south west]
\histpanel{\histD}{$p = 3.59\times10^{-8}$}
\end{axis}
\end{tikzpicture}
\end{document}
